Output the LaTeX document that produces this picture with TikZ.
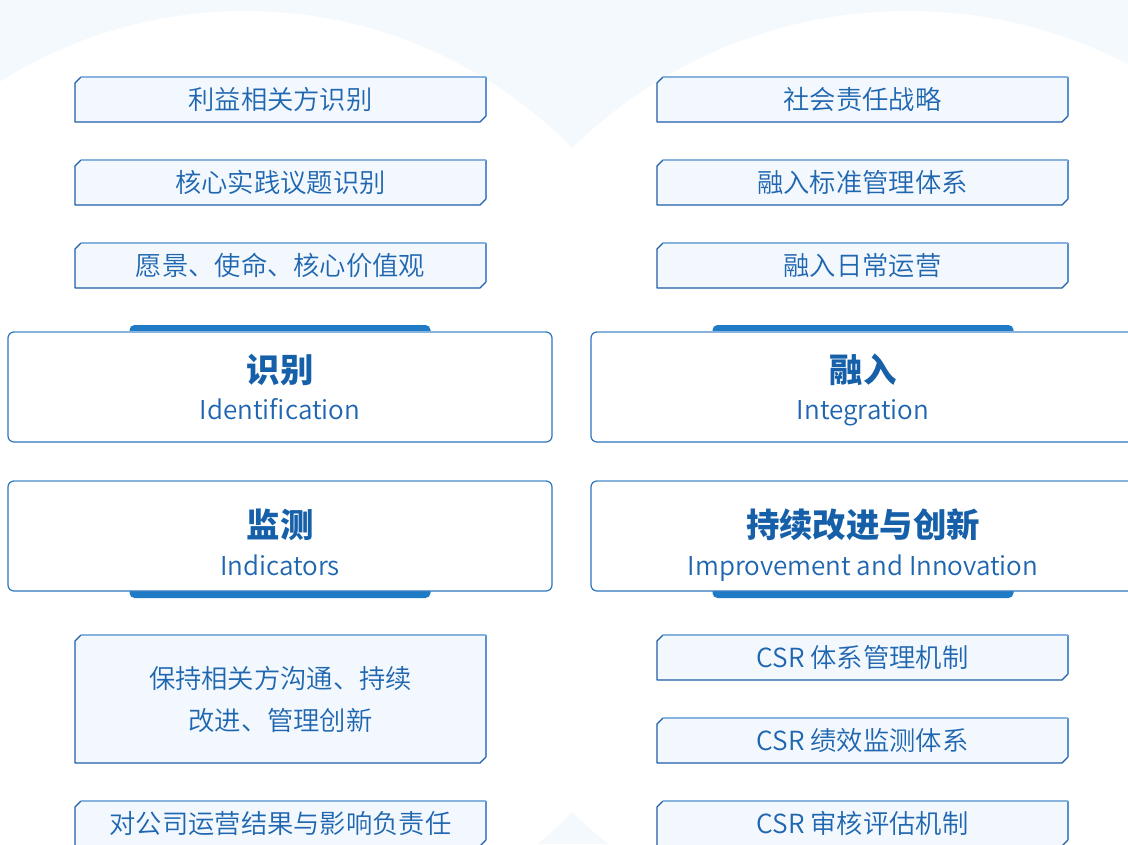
\documentclass[tikz,border=0pt]{standalone}
\usepackage{fontspec}
\setmainfont{Noto Sans CJK SC}
\newfontfamily\lightcjk{Noto Sans CJK SC}[UprightFont={* DemiLight}]
\usetikzlibrary{calc}
\definecolor{bglight}{HTML}{F4F9FD}
\definecolor{sfill}{HTML}{F2F8FD}
\definecolor{blight}{HTML}{88B3DE}
\definecolor{bright}{HTML}{5A92CF}
\definecolor{bdark}{HTML}{1F5EA9}
\definecolor{bmid}{HTML}{2D74BF}
\definecolor{txt}{HTML}{1F66B0}
\definecolor{ttl}{HTML}{1660AA}
\definecolor{tabc}{HTML}{1F7BC5}
\pgfdeclarelayer{back}
\pgfdeclarelayer{frames}
\pgfsetlayers{back,frames,main}
\newcommand{\chamframe}[1]{%
\begin{pgfonlayer}{frames}
\fill[sfill] ($(#1.north west)+(0,6)$) -- ($(#1.north west)+(6,0)$) -- (#1.north east) -- ($(#1.south east)+(0,-6)$) -- ($(#1.south east)+(-6,0)$) -- (#1.south west) -- cycle;
\draw[bdark, line width=1.3pt, line join=round] ($(#1.north west)+(6,0)$) -- ($(#1.north west)+(0,6)$) -- (#1.south west) -- ($(#1.south east)+(-6,0)$) -- ($(#1.south east)+(0,-6)$);
\draw[bright, line width=1.3pt, line join=round] (#1.north east) -- ($(#1.south east)+(0,-6)$);
\draw[blight, line width=1.3pt, line join=round] ($(#1.north west)+(6,0)$) -- (#1.north east);
\end{pgfonlayer}}
\newcommand{\bigframe}[2]{%
\begin{pgfonlayer}{frames}
\fill[tabc, rounded corners=5pt] ($(#1.#2)+(-150.5,-7)$) rectangle ($(#1.#2)+(150.5,7)$);
\fill[white, rounded corners=6pt] (#1.north west) rectangle (#1.south east);
\draw[bmid, line width=1.2pt, rounded corners=6pt] (#1.north west) rectangle (#1.south east);
\draw[blight, line width=1.2pt] ($(#1.north west)+(6,0)$) -- ($(#1.north east)+(-6,0)$);
\end{pgfonlayer}}
\begin{document}
\begin{tikzpicture}[x=1pt,y=-1pt,
  sbox/.style={rectangle, minimum width=411pt, minimum height=45pt, inner sep=0pt, outer sep=0pt, text=txt, font=\lightcjk\fontsize{26.3}{42}\selectfont, align=center},
  bbox/.style={rectangle, minimum width=544pt, minimum height=110pt, inner sep=0pt, outer sep=0pt},
  ttlstyle/.style={anchor=base, inner sep=0pt, text=ttl, font=\bfseries\fontsize{33.4}{40}\selectfont},
  substyle/.style={anchor=base, inner sep=0pt, text=txt, font=\lightcjk\fontsize{26}{31}\selectfont}]
\useasboundingbox (0,0) rectangle (1128,844);
\begin{pgfonlayer}{back}
\begin{scope}
\clip (0,0) rectangle (1128,480);
\fill[bglight] (0,0) rectangle (1128,480);
\fill[white] (245,470) circle[radius=459pt];
\fill[white] (908,491) circle[radius=480pt];
\end{scope}
\begin{scope}
\clip (0,480) rectangle (1128,844);
\fill[bglight] (0,480) rectangle (1128,844);
\fill[white] (245,490) circle[radius=459pt];
\fill[white] (908,469) circle[radius=480pt];
\end{scope}
\end{pgfonlayer}

% small boxes, left top
\node[sbox] (a1) at (280.5,99.5) {利益相关方识别};
\node[sbox] (a2) at (280.5,182.5) {核心实践议题识别};
\node[sbox] (a3) at (280.5,265.5) {愿景、使命、核心价值观};
% right top
\node[sbox] (b1) at (862.5,99.5) {社会责任战略};
\node[sbox] (b2) at (862.5,182.5) {融入标准管理体系};
\node[sbox] (b3) at (862.5,265.5) {融入日常运营};
% bottom left
\node[sbox, minimum height=128pt] (c1) at (280.5,699) {保持相关方沟通、持续\\改进、管理创新};
\node[sbox] (c2) at (280.5,823.5) {对公司运营结果与影响负责任};
% bottom right
\node[sbox] (d1) at (862.5,657.5) {CSR 体系管理机制};
\node[sbox] (d2) at (862.5,740.5) {CSR 绩效监测体系};
\node[sbox] (d3) at (862.5,823.5) {CSR 审核评估机制};
\foreach \n in {a1,a2,a3,b1,b2,b3,c1,c2,d1,d2,d3}{\chamframe{\n}}

% big boxes
\node[bbox] (L1) at (280,387) {};
\node[bbox] (R1) at (863,387) {};
\node[bbox] (L2) at (280,536) {};
\node[bbox] (R2) at (863,536) {};
\bigframe{L1}{north}
\bigframe{R1}{north}
\bigframe{L2}{south}
\bigframe{R2}{south}

\node[ttlstyle] (L1t) at ($(L1.center)+(0,-5)$) {识别};
\node[substyle] (L1s) at ($(L1.center)+(0,32)$) {Identification};
\node[ttlstyle] (R1t) at ($(R1.center)+(0,-5)$) {融入};
\node[substyle] (R1s) at ($(R1.center)+(0,32)$) {Integration};
\node[ttlstyle] (L2t) at ($(L2.center)+(0,1)$) {监测};
\node[substyle] (L2s) at ($(L2.center)+(0,39)$) {Indicators};
\node[ttlstyle] (R2t) at ($(R2.center)+(0,1)$) {持续改进与创新};
\node[substyle] (R2s) at ($(R2.center)+(0,39)$) {Improvement and Innovation};
\end{tikzpicture}
\end{document}
